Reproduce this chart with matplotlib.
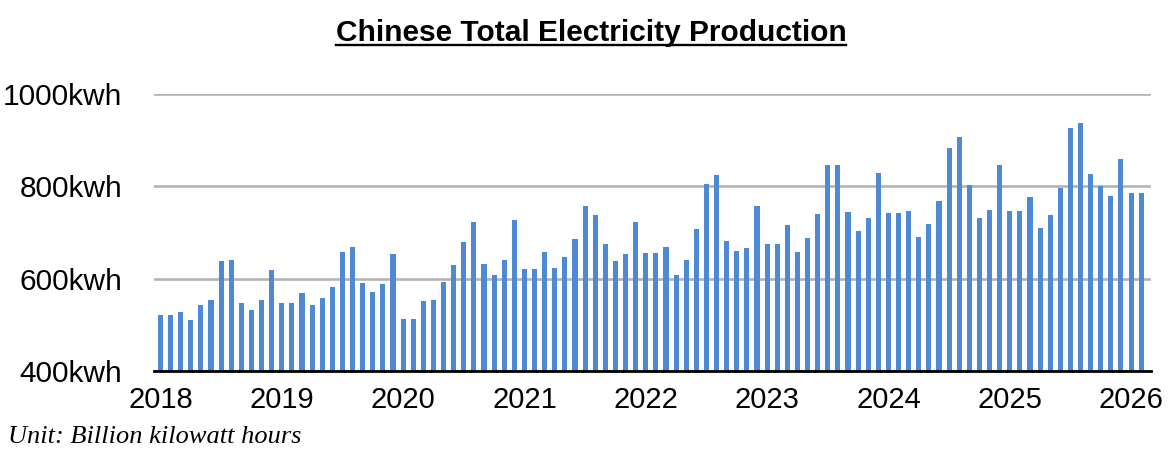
import matplotlib
matplotlib.use("Agg")
import matplotlib.pyplot as plt
from matplotlib.lines import Line2D
import numpy as np

# monthly output, Jan 2018 .. Feb 2026 (Jan/Feb reported together -> same bar height)
years = [2018, 2019, 2020, 2021, 2022, 2023, 2024, 2025, 2026]
production = [
    521, 521, 528, 510, 543, 554, 639, 640, 548, 532, 554, 619,   # 2018
    548, 548, 570, 543, 559, 583, 658, 669, 591, 572, 589, 653,   # 2019
    513, 513, 552, 553, 593, 630, 680, 723, 632, 609, 640, 727,   # 2020
    621, 621, 658, 623, 647, 686, 757, 738, 675, 638, 653, 723,   # 2021
    655, 655, 669, 608, 640, 708, 805, 825, 682, 660, 666, 757,   # 2022
    675, 675, 716, 658, 688, 740, 846, 846, 744, 703, 731, 829,   # 2023
    742, 742, 747, 690, 718, 768, 883, 907, 803, 731, 749, 846,   # 2024
    747, 747, 777, 710, 738, 796, 926, 937, 827, 801, 779, 859,   # 2025
    786, 786,                                                     # 2026
]
y_ticks = [400, 600, 800, 1000]

plt.rcParams['font.family'] = ['Liberation Sans', 'DejaVu Sans']

W, H = 1173, 465
fig = plt.figure(figsize=(W / 100, H / 100), dpi=100)
# axes box in pixels: left 154, right 1151, top 94, bottom 371
ax = fig.add_axes([154 / W, 1 - 371 / H, (1151 - 154) / W, (371 - 94) / H])

x = np.arange(len(production))
ax.bar(x, np.array(production) - 400, bottom=400, width=0.5, color='#4e89d6', zorder=3)

ax.set_ylim(400, 1000)
ax.set_xlim(-0.64, 97.97)
ax.set_yticks(y_ticks)
ax.set_yticklabels([f'{v}kwh' for v in y_ticks], fontsize=21.5)
ax.set_xticks([12 * i for i in range(len(years))])
ax.set_xticklabels([str(y) for y in years], fontsize=21)
ax.tick_params(axis='both', length=0)
ax.tick_params(axis='y', pad=23)
ax.tick_params(axis='x', pad=11)

ax.grid(axis='y', color='#b4b4b4', linewidth=1.9, zorder=0)
ax.grid(axis='x', visible=False)
for s in ['top', 'right', 'left']:
    ax.spines[s].set_visible(False)
ax.spines['bottom'].set_color('black')
ax.spines['bottom'].set_linewidth(2)
ax.spines['bottom'].set_zorder(4)

# title with underline
title = fig.text(591 / W, 1 - 40.5 / H, 'Chinese Total Electricity Production',
                 ha='center', va='baseline', fontsize=21.5, fontweight='bold')
fig.canvas.draw()
bb = title.get_window_extent(fig.canvas.get_renderer())
uy = 1 - 45.5 / H
fig.add_artist(Line2D([bb.x0 / W, bb.x1 / W], [uy, uy], color='black', linewidth=1.7))

fig.text(8 / W, 1 - 437 / H, 'Unit: Billion kilowatt hours', ha='left', va='center',
         fontsize=19, fontstyle='italic', family=['Liberation Serif', 'DejaVu Serif'])

fig.savefig('out.png', dpi=100)
